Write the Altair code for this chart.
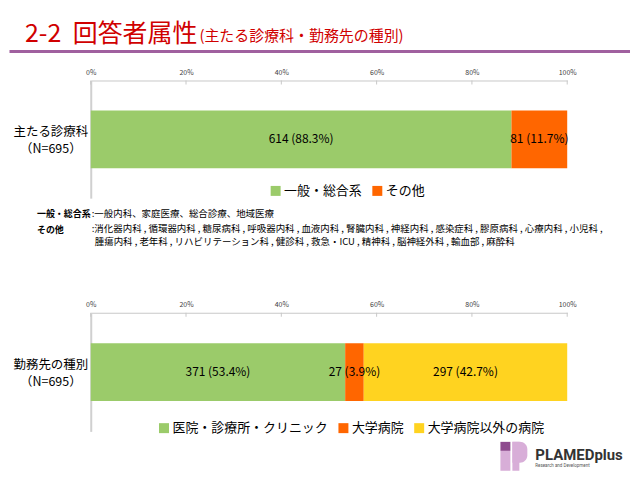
import altair as alt
import pandas as pd

JP = "Noto Sans CJK JP"

# ---------------- data ----------------
top_categories = ["一般・総合系", "その他"]
top_counts = [614, 81]
top_percents = [88.3, 11.7]
top_colors = ["#9BCB6A", "#FF6600"]
top_axis_label = ["主たる診療科", "（N=695）"]

bot_categories = ["医院・診療所・クリニック", "大学病院", "大学病院以外の病院"]
bot_counts = [371, 27, 297]
bot_percents = [53.4, 3.9, 42.7]
bot_colors = ["#9BCB6A", "#FF6600", "#FFD320"]
bot_axis_label = ["勤務先の種別", "（N=695）"]

tick_values = [0, 20, 40, 60, 80, 100]

title_num = "2-2"
title_main = "回答者属性"
title_sub = "(主たる診療科・勤務先の種別)"

note_general_head = "一般・総合系"
note_general_body = ":一般内科、家庭医療、総合診療、地域医療"
note_other_head = "その他"
note_other_line1 = ":消化器内科  , 循環器内科  , 糖尿病科  , 呼吸器内科  , 血液内科  , 腎臓内科  , 神経内科  , 感染症科  , 膠原病科  , 心療内科  , 小児科  ,"
note_other_line2 = "腫瘍内科 , 老年科 ,  リハビリテーション科 , 健診科 , 救急・ICU , 精神科 , 脳神経外科 , 輸血部 , 麻酔科"

logo_name = "PLAMEDplus"
logo_tag = "Research and Development"

# ---------------- geometry (page px) ----------------
LEFT = 91.0
W = 478
H_TOP = 118
H_BOT = 119
GAP = 115
TOP1 = 79.5
TOP2 = TOP1 + H_TOP + GAP


def build(categories, counts, percents, row):
    df = pd.DataFrame({"cat": categories, "n": counts, "p": percents})
    df["end"] = df["p"].cumsum()
    df["start"] = df["end"] - df["p"]
    df["mid"] = (df["start"] + df["end"]) / 2
    df["label"] = [f"{n} ({p:.1f}%)" for n, p in zip(counts, percents)]
    df["row"] = row
    return df


def txt(s, x, y, **kw):
    return alt.Chart(pd.DataFrame({"t": [s]})).mark_text(**kw).encode(
        text="t:N", x=alt.value(x), y=alt.value(y)
    )


def box(x1, x2, y1, y2, color, **kw):
    return alt.Chart(pd.DataFrame({"k": [0]})).mark_rect(color=color, **kw).encode(
        x=alt.value(x1), x2=alt.value(x2), y=alt.value(y1), y2=alt.value(y2)
    )


def hline(x1, x2, y, color, width):
    return alt.Chart(pd.DataFrame({"k": [0]})).mark_rule(color=color, strokeWidth=width).encode(
        x=alt.value(x1), x2=alt.value(x2), y=alt.value(y)
    )


def panel(df, cats, colors, height, axis_label, lx, ly):
    x_axis = alt.Axis(
        orient="top", values=tick_values, labelExpr="datum.value + '%'",
        ticks=False, tickSize=0, grid=False, domainColor="#C8C8C8", domainWidth=1,
        labelFont=JP, labelFontSize=7, labelColor="#404040", labelPadding=5,
        title=None, labelFlush=False,
    )
    y_axis = alt.Axis(labels=False, ticks=False, title=None, grid=False,
                      domainColor="#D0D0D0", domainWidth=2)
    bars = alt.Chart(df).mark_bar(size=58).encode(
        x=alt.X("start:Q", scale=alt.Scale(domain=[0, 100], nice=False), axis=x_axis),
        x2="end:Q",
        y=alt.Y("row:N", axis=y_axis),
        color=alt.Color(
            "cat:N",
            scale=alt.Scale(domain=cats, range=colors),
            sort=cats,
            legend=alt.Legend(
                orient="none", legendX=lx, legendY=ly, direction="horizontal",
                title=None, symbolType="square", symbolSize=100, symbolStrokeWidth=0,
                labelFont=JP, labelFontSize=13, labelColor="black", labelOffset=2,
                columnPadding=8, padding=0, labelLimit=400,
            ),
        ),
    )
    labels = alt.Chart(df).mark_text(font=JP, fontSize=12, color="black").encode(
        x="mid:Q", y="row:N", text="label:N"
    )
    ticks = alt.Chart(pd.DataFrame({"t": tick_values})).mark_rule(
        color="#C8C8C8", strokeWidth=1
    ).encode(x="t:Q", y=alt.value(0), y2=alt.value(4))
    lab1 = txt(axis_label[0], -40, 52, font=JP, fontSize=12.5, align="center",
               baseline="middle", color="black")
    lab2 = txt(axis_label[1], -40, 69, font=JP, fontSize=12.5, align="center",
               baseline="middle", color="black")
    return [bars, labels, ticks, lab1, lab2]


top_df = build(top_categories, top_counts, top_percents, "top")
bot_df = build(bot_categories, bot_counts, bot_percents, "bottom")

# ----- top panel -----
top_layers = panel(top_df, top_categories, top_colors, H_TOP, top_axis_label, 179, 104)

def ry1(py):
    return py - TOP1

def ry2(py):
    return py - TOP2

def rx(px):
    return px - LEFT

RED = "#D00000"
top_layers += [
    # white anchor that fixes the page origin
    alt.Chart(pd.DataFrame({"k": [0]})).mark_rule(color="white", strokeWidth=1).encode(
        x=alt.value(rx(8.5)), x2=alt.value(rx(9.5)), y=alt.value(ry1(8.5))
    ),
    txt(title_num, rx(25), ry1(41), font=JP, fontSize=25, color=RED, align="left",
        baseline="alphabetic"),
    txt(title_main, rx(73), ry1(41), font=JP, fontSize=25, color=RED, align="left",
        baseline="alphabetic"),
    txt(title_sub, rx(200), ry1(40), font=JP, fontSize=15, color=RED, align="left",
        baseline="alphabetic"),
    hline(rx(9.5), rx(632), ry1(50.5), "#A0609F", 3),
    txt(note_general_head, rx(37), ry1(213), font=JP, fontSize=9, fontWeight="bold",
        align="left", baseline="middle", color="black"),
    txt(note_general_body, rx(92), ry1(213), font=JP, fontSize=9.5, align="left",
        baseline="middle", color="black"),
    txt(note_other_head, rx(37), ry1(229), font=JP, fontSize=9, fontWeight="bold",
        align="left", baseline="middle", color="black"),
    txt(note_other_line1, rx(92), ry1(228.5), font=JP, fontSize=9.5, align="left",
        baseline="middle", color="black"),
    txt(note_other_line2, rx(95), ry1(242), font=JP, fontSize=9.5, align="left",
        baseline="middle", color="black"),
]

# ----- bottom panel -----
bot_layers = panel(bot_df, bot_categories, bot_colors, H_BOT, bot_axis_label, 67, 109)
LIGHT = "#D8AED8"
DARK = "#8E4A8E"
bot_layers += [
    box(rx(502), rx(512), ry2(451), ry2(471), LIGHT),
    box(rx(514), rx(521), ry2(442), ry2(471), LIGHT),
    box(rx(514), rx(529), ry2(442), ry2(463), LIGHT, cornerRadiusTopRight=9,
        cornerRadiusBottomRight=9),
    box(rx(502), rx(512), ry2(442), ry2(451), DARK),
    txt(logo_name, rx(537), ry2(455), font="Roboto", fontSize=15, fontWeight="bold",
        color="#333333", align="left", baseline="middle"),
    txt(logo_tag, rx(537), ry2(466), font="Roboto", fontSize=4.5, color="#555555",
        align="left", baseline="middle"),
]

top = alt.layer(*top_layers).properties(width=W, height=H_TOP)
bot = alt.layer(*bot_layers).properties(width=W, height=H_BOT)

chart = (
    alt.vconcat(top, bot, spacing=GAP, bounds="flush")
    .resolve_scale(x="independent", y="independent", color="independent")
    .properties(padding=0, background="white")
    .configure_view(stroke=None)
)

chart.save("out.html", embed_options={"renderer": "svg", "actions": False})
